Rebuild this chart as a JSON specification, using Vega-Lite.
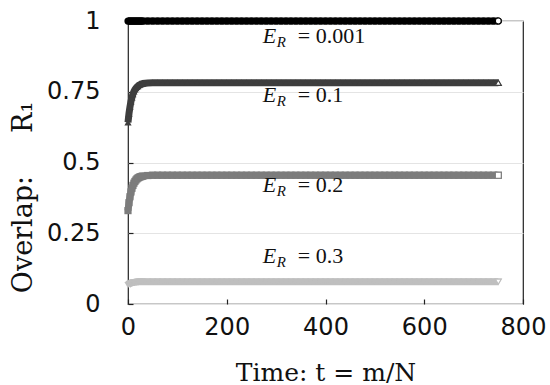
{
"$schema": "https://vega.github.io/schema/vega-lite/v6.json",
"width": 395,
"height": 283,
"autosize": {"type": "none"},
"padding": {"left": 128, "top": 21, "right": 27, "bottom": 81},
"background": "white",
"config": {
  "view": {"stroke": "#222222", "strokeWidth": 1.2},
  "axis": {"domain": false, "tickColor": "#222222", "tickSize": -5, "tickWidth": 1.2,
    "labelFont": "DejaVu Sans", "labelFontSize": 24, "labelColor": "#111111",
    "titleFont": "DejaVu Serif", "titleFontWeight": "normal", "titleColor": "#111111"}
},
"datasets": {
"curves": [
{"t":0,"s":"0.001","r":1},{"t":2,"s":"0.001","r":1},{"t":4,"s":"0.001","r":1},{"t":6,"s":"0.001","r":1},{"t":8,"s":"0.001","r":1},{"t":10,"s":"0.001","r":1},{"t":12,"s":"0.001","r":1},{"t":14,"s":"0.001","r":1},{"t":16,"s":"0.001","r":1},{"t":18,"s":"0.001","r":1},{"t":20,"s":"0.001","r":1},{"t":22,"s":"0.001","r":1},{"t":24,"s":"0.001","r":1},{"t":26,"s":"0.001","r":1},{"t":28,"s":"0.001","r":1},{"t":30,"s":"0.001","r":1},
{"t":40,"s":"0.001","r":1},{"t":50,"s":"0.001","r":1},{"t":60,"s":"0.001","r":1},{"t":70,"s":"0.001","r":1},{"t":80,"s":"0.001","r":1},{"t":90,"s":"0.001","r":1},{"t":100,"s":"0.001","r":1},{"t":110,"s":"0.001","r":1},{"t":120,"s":"0.001","r":1},{"t":130,"s":"0.001","r":1},{"t":140,"s":"0.001","r":1},{"t":150,"s":"0.001","r":1},{"t":160,"s":"0.001","r":1},{"t":170,"s":"0.001","r":1},{"t":180,"s":"0.001","r":1},{"t":190,"s":"0.001","r":1},{"t":200,"s":"0.001","r":1},{"t":210,"s":"0.001","r":1},{"t":220,"s":"0.001","r":1},{"t":230,"s":"0.001","r":1},{"t":240,"s":"0.001","r":1},{"t":250,"s":"0.001","r":1},{"t":260,"s":"0.001","r":1},{"t":270,"s":"0.001","r":1},{"t":280,"s":"0.001","r":1},{"t":290,"s":"0.001","r":1},{"t":300,"s":"0.001","r":1},{"t":310,"s":"0.001","r":1},{"t":320,"s":"0.001","r":1},{"t":330,"s":"0.001","r":1},{"t":340,"s":"0.001","r":1},{"t":350,"s":"0.001","r":1},{"t":360,"s":"0.001","r":1},{"t":370,"s":"0.001","r":1},{"t":380,"s":"0.001","r":1},{"t":390,"s":"0.001","r":1},{"t":400,"s":"0.001","r":1},{"t":410,"s":"0.001","r":1},{"t":420,"s":"0.001","r":1},{"t":430,"s":"0.001","r":1},{"t":440,"s":"0.001","r":1},{"t":450,"s":"0.001","r":1},{"t":460,"s":"0.001","r":1},{"t":470,"s":"0.001","r":1},{"t":480,"s":"0.001","r":1},{"t":490,"s":"0.001","r":1},{"t":500,"s":"0.001","r":1},{"t":510,"s":"0.001","r":1},{"t":520,"s":"0.001","r":1},{"t":530,"s":"0.001","r":1},{"t":540,"s":"0.001","r":1},{"t":550,"s":"0.001","r":1},{"t":560,"s":"0.001","r":1},{"t":570,"s":"0.001","r":1},{"t":580,"s":"0.001","r":1},{"t":590,"s":"0.001","r":1},{"t":600,"s":"0.001","r":1},{"t":610,"s":"0.001","r":1},{"t":620,"s":"0.001","r":1},{"t":630,"s":"0.001","r":1},{"t":640,"s":"0.001","r":1},{"t":650,"s":"0.001","r":1},{"t":660,"s":"0.001","r":1},{"t":670,"s":"0.001","r":1},{"t":680,"s":"0.001","r":1},{"t":690,"s":"0.001","r":1},{"t":700,"s":"0.001","r":1},{"t":710,"s":"0.001","r":1},{"t":720,"s":"0.001","r":1},{"t":730,"s":"0.001","r":1},{"t":740,"s":"0.001","r":1},{"t":750,"s":"0.001","r":1},
{"t":0,"s":"0.1","r":0.642},{"t":2,"s":"0.1","r":0.673},{"t":4,"s":"0.1","r":0.697},{"t":6,"s":"0.1","r":0.716},{"t":8,"s":"0.1","r":0.73},{"t":10,"s":"0.1","r":0.742},{"t":12,"s":"0.1","r":0.751},{"t":14,"s":"0.1","r":0.758},{"t":16,"s":"0.1","r":0.763},{"t":18,"s":"0.1","r":0.767},{"t":20,"s":"0.1","r":0.77},{"t":22,"s":"0.1","r":0.773},{"t":24,"s":"0.1","r":0.775},{"t":26,"s":"0.1","r":0.777},{"t":28,"s":"0.1","r":0.778},{"t":30,"s":"0.1","r":0.779},
{"t":40,"s":"0.1","r":0.781},{"t":50,"s":"0.1","r":0.782},{"t":60,"s":"0.1","r":0.782},{"t":70,"s":"0.1","r":0.782},{"t":80,"s":"0.1","r":0.782},{"t":90,"s":"0.1","r":0.782},{"t":100,"s":"0.1","r":0.782},{"t":110,"s":"0.1","r":0.782},{"t":120,"s":"0.1","r":0.782},{"t":130,"s":"0.1","r":0.782},{"t":140,"s":"0.1","r":0.782},{"t":150,"s":"0.1","r":0.782},{"t":160,"s":"0.1","r":0.782},{"t":170,"s":"0.1","r":0.782},{"t":180,"s":"0.1","r":0.782},{"t":190,"s":"0.1","r":0.782},{"t":200,"s":"0.1","r":0.782},{"t":210,"s":"0.1","r":0.782},{"t":220,"s":"0.1","r":0.782},{"t":230,"s":"0.1","r":0.782},{"t":240,"s":"0.1","r":0.782},{"t":250,"s":"0.1","r":0.782},{"t":260,"s":"0.1","r":0.782},{"t":270,"s":"0.1","r":0.782},{"t":280,"s":"0.1","r":0.782},{"t":290,"s":"0.1","r":0.782},{"t":300,"s":"0.1","r":0.782},{"t":310,"s":"0.1","r":0.782},{"t":320,"s":"0.1","r":0.782},{"t":330,"s":"0.1","r":0.782},{"t":340,"s":"0.1","r":0.782},{"t":350,"s":"0.1","r":0.782},{"t":360,"s":"0.1","r":0.782},{"t":370,"s":"0.1","r":0.782},{"t":380,"s":"0.1","r":0.782},{"t":390,"s":"0.1","r":0.782},{"t":400,"s":"0.1","r":0.782},{"t":410,"s":"0.1","r":0.782},{"t":420,"s":"0.1","r":0.782},{"t":430,"s":"0.1","r":0.782},{"t":440,"s":"0.1","r":0.782},{"t":450,"s":"0.1","r":0.782},{"t":460,"s":"0.1","r":0.782},{"t":470,"s":"0.1","r":0.782},{"t":480,"s":"0.1","r":0.782},{"t":490,"s":"0.1","r":0.782},{"t":500,"s":"0.1","r":0.782},{"t":510,"s":"0.1","r":0.782},{"t":520,"s":"0.1","r":0.782},{"t":530,"s":"0.1","r":0.782},{"t":540,"s":"0.1","r":0.782},{"t":550,"s":"0.1","r":0.782},{"t":560,"s":"0.1","r":0.782},{"t":570,"s":"0.1","r":0.782},{"t":580,"s":"0.1","r":0.782},{"t":590,"s":"0.1","r":0.782},{"t":600,"s":"0.1","r":0.782},{"t":610,"s":"0.1","r":0.782},{"t":620,"s":"0.1","r":0.782},{"t":630,"s":"0.1","r":0.782},{"t":640,"s":"0.1","r":0.782},{"t":650,"s":"0.1","r":0.782},{"t":660,"s":"0.1","r":0.782},{"t":670,"s":"0.1","r":0.782},{"t":680,"s":"0.1","r":0.782},{"t":690,"s":"0.1","r":0.782},{"t":700,"s":"0.1","r":0.782},{"t":710,"s":"0.1","r":0.782},{"t":720,"s":"0.1","r":0.782},{"t":730,"s":"0.1","r":0.782},{"t":740,"s":"0.1","r":0.782},{"t":750,"s":"0.1","r":0.782},
{"t":0,"s":"0.2","r":0.33},{"t":2,"s":"0.2","r":0.358},{"t":4,"s":"0.2","r":0.379},{"t":6,"s":"0.2","r":0.396},{"t":8,"s":"0.2","r":0.409},{"t":10,"s":"0.2","r":0.419},{"t":12,"s":"0.2","r":0.427},{"t":14,"s":"0.2","r":0.433},{"t":16,"s":"0.2","r":0.438},{"t":18,"s":"0.2","r":0.442},{"t":20,"s":"0.2","r":0.445},{"t":22,"s":"0.2","r":0.447},{"t":24,"s":"0.2","r":0.449},{"t":26,"s":"0.2","r":0.45},{"t":28,"s":"0.2","r":0.451},{"t":30,"s":"0.2","r":0.452},
{"t":40,"s":"0.2","r":0.454},{"t":50,"s":"0.2","r":0.455},{"t":60,"s":"0.2","r":0.455},{"t":70,"s":"0.2","r":0.455},{"t":80,"s":"0.2","r":0.455},{"t":90,"s":"0.2","r":0.455},{"t":100,"s":"0.2","r":0.455},{"t":110,"s":"0.2","r":0.455},{"t":120,"s":"0.2","r":0.455},{"t":130,"s":"0.2","r":0.455},{"t":140,"s":"0.2","r":0.455},{"t":150,"s":"0.2","r":0.455},{"t":160,"s":"0.2","r":0.455},{"t":170,"s":"0.2","r":0.455},{"t":180,"s":"0.2","r":0.455},{"t":190,"s":"0.2","r":0.455},{"t":200,"s":"0.2","r":0.455},{"t":210,"s":"0.2","r":0.455},{"t":220,"s":"0.2","r":0.455},{"t":230,"s":"0.2","r":0.455},{"t":240,"s":"0.2","r":0.455},{"t":250,"s":"0.2","r":0.455},{"t":260,"s":"0.2","r":0.455},{"t":270,"s":"0.2","r":0.455},{"t":280,"s":"0.2","r":0.455},{"t":290,"s":"0.2","r":0.455},{"t":300,"s":"0.2","r":0.455},{"t":310,"s":"0.2","r":0.455},{"t":320,"s":"0.2","r":0.455},{"t":330,"s":"0.2","r":0.455},{"t":340,"s":"0.2","r":0.455},{"t":350,"s":"0.2","r":0.455},{"t":360,"s":"0.2","r":0.455},{"t":370,"s":"0.2","r":0.455},{"t":380,"s":"0.2","r":0.455},{"t":390,"s":"0.2","r":0.455},{"t":400,"s":"0.2","r":0.455},{"t":410,"s":"0.2","r":0.455},{"t":420,"s":"0.2","r":0.455},{"t":430,"s":"0.2","r":0.455},{"t":440,"s":"0.2","r":0.455},{"t":450,"s":"0.2","r":0.455},{"t":460,"s":"0.2","r":0.455},{"t":470,"s":"0.2","r":0.455},{"t":480,"s":"0.2","r":0.455},{"t":490,"s":"0.2","r":0.455},{"t":500,"s":"0.2","r":0.455},{"t":510,"s":"0.2","r":0.455},{"t":520,"s":"0.2","r":0.455},{"t":530,"s":"0.2","r":0.455},{"t":540,"s":"0.2","r":0.455},{"t":550,"s":"0.2","r":0.455},{"t":560,"s":"0.2","r":0.455},{"t":570,"s":"0.2","r":0.455},{"t":580,"s":"0.2","r":0.455},{"t":590,"s":"0.2","r":0.455},{"t":600,"s":"0.2","r":0.455},{"t":610,"s":"0.2","r":0.455},{"t":620,"s":"0.2","r":0.455},{"t":630,"s":"0.2","r":0.455},{"t":640,"s":"0.2","r":0.455},{"t":650,"s":"0.2","r":0.455},{"t":660,"s":"0.2","r":0.455},{"t":670,"s":"0.2","r":0.455},{"t":680,"s":"0.2","r":0.455},{"t":690,"s":"0.2","r":0.455},{"t":700,"s":"0.2","r":0.455},{"t":710,"s":"0.2","r":0.455},{"t":720,"s":"0.2","r":0.455},{"t":730,"s":"0.2","r":0.455},{"t":740,"s":"0.2","r":0.455},{"t":750,"s":"0.2","r":0.455},
{"t":0,"s":"0.3","r":0.067},{"t":2,"s":"0.3","r":0.07},{"t":4,"s":"0.3","r":0.072},{"t":6,"s":"0.3","r":0.073},{"t":8,"s":"0.3","r":0.075},{"t":10,"s":"0.3","r":0.076},{"t":12,"s":"0.3","r":0.076},{"t":14,"s":"0.3","r":0.077},{"t":16,"s":"0.3","r":0.077},{"t":18,"s":"0.3","r":0.078},{"t":20,"s":"0.3","r":0.078},{"t":22,"s":"0.3","r":0.079},{"t":24,"s":"0.3","r":0.079},{"t":26,"s":"0.3","r":0.079},{"t":28,"s":"0.3","r":0.079},{"t":30,"s":"0.3","r":0.079},
{"t":40,"s":"0.3","r":0.079},{"t":50,"s":"0.3","r":0.079},{"t":60,"s":"0.3","r":0.079},{"t":70,"s":"0.3","r":0.079},{"t":80,"s":"0.3","r":0.079},{"t":90,"s":"0.3","r":0.079},{"t":100,"s":"0.3","r":0.079},{"t":110,"s":"0.3","r":0.079},{"t":120,"s":"0.3","r":0.079},{"t":130,"s":"0.3","r":0.079},{"t":140,"s":"0.3","r":0.079},{"t":150,"s":"0.3","r":0.079},{"t":160,"s":"0.3","r":0.079},{"t":170,"s":"0.3","r":0.079},{"t":180,"s":"0.3","r":0.079},{"t":190,"s":"0.3","r":0.079},{"t":200,"s":"0.3","r":0.079},{"t":210,"s":"0.3","r":0.079},{"t":220,"s":"0.3","r":0.079},{"t":230,"s":"0.3","r":0.079},{"t":240,"s":"0.3","r":0.079},{"t":250,"s":"0.3","r":0.079},{"t":260,"s":"0.3","r":0.079},{"t":270,"s":"0.3","r":0.079},{"t":280,"s":"0.3","r":0.079},{"t":290,"s":"0.3","r":0.079},{"t":300,"s":"0.3","r":0.079},{"t":310,"s":"0.3","r":0.079},{"t":320,"s":"0.3","r":0.079},{"t":330,"s":"0.3","r":0.079},{"t":340,"s":"0.3","r":0.079},{"t":350,"s":"0.3","r":0.079},{"t":360,"s":"0.3","r":0.079},{"t":370,"s":"0.3","r":0.079},{"t":380,"s":"0.3","r":0.079},{"t":390,"s":"0.3","r":0.079},{"t":400,"s":"0.3","r":0.079},{"t":410,"s":"0.3","r":0.079},{"t":420,"s":"0.3","r":0.079},{"t":430,"s":"0.3","r":0.079},{"t":440,"s":"0.3","r":0.079},{"t":450,"s":"0.3","r":0.079},{"t":460,"s":"0.3","r":0.079},{"t":470,"s":"0.3","r":0.079},{"t":480,"s":"0.3","r":0.079},{"t":490,"s":"0.3","r":0.079},{"t":500,"s":"0.3","r":0.079},{"t":510,"s":"0.3","r":0.079},{"t":520,"s":"0.3","r":0.079},{"t":530,"s":"0.3","r":0.079},{"t":540,"s":"0.3","r":0.079},{"t":550,"s":"0.3","r":0.079},{"t":560,"s":"0.3","r":0.079},{"t":570,"s":"0.3","r":0.079},{"t":580,"s":"0.3","r":0.079},{"t":590,"s":"0.3","r":0.079},{"t":600,"s":"0.3","r":0.079},{"t":610,"s":"0.3","r":0.079},{"t":620,"s":"0.3","r":0.079},{"t":630,"s":"0.3","r":0.079},{"t":640,"s":"0.3","r":0.079},{"t":650,"s":"0.3","r":0.079},{"t":660,"s":"0.3","r":0.079},{"t":670,"s":"0.3","r":0.079},{"t":680,"s":"0.3","r":0.079},{"t":690,"s":"0.3","r":0.079},{"t":700,"s":"0.3","r":0.079},{"t":710,"s":"0.3","r":0.079},{"t":720,"s":"0.3","r":0.079},{"t":730,"s":"0.3","r":0.079},{"t":740,"s":"0.3","r":0.079},{"t":750,"s":"0.3","r":0.079}
],
"labels": [
{"t":273,"r":0.922,"v":"= 0.001"},
{"t":273,"r":0.714,"v":"= 0.1"},
{"t":273,"r":0.396,"v":"= 0.2"},
{"t":273,"r":0.145,"v":"= 0.3"}
]
},
"encoding": {
  "x": {"field": "t", "type": "quantitative", "scale": {"domain": [0, 800], "nice": false, "zero": false},
    "axis": {"values": [0, 200, 400, 600, 800], "format": "d", "grid": false, "labelPadding": 16, "labelFlush": false,
      "title": "Time: t = m/N", "titleFontSize": 25, "titleBaseline": "alphabetic", "titleY": 76}},
  "y": {"field": "r", "type": "quantitative", "scale": {"domain": [0, 1], "nice": false},
    "axis": {"values": [0, 0.25, 0.5, 0.75, 1], "labelExpr": "format(datum.value, '.2~f')", "grid": true, "gridColor": "#e4e4e4", "gridWidth": 1,
      "labelPadding": 33, "title": "Overlap:\u00a0\u00a0\u00a0\u00a0\u00a0R₁", "titleFontSize": 27, "titleAngle": -90,
      "titleX": -97, "titleY": 176, "titleAlign": "center", "titleBaseline": "alphabetic"}}
},
"layer": [
  {"data": {"name": "curves"},
   "mark": {"type": "line", "strokeWidth": 7, "strokeCap": "butt"},
   "encoding": {"color": {"field": "s", "type": "nominal", "legend": null,
      "scale": {"domain": ["0.001", "0.1", "0.2", "0.3"], "range": ["#000000", "#3e3e3e", "#7c7c7c", "#bfbfbf"]}},
     "detail": {"field": "s"}}},
  {"data": {"name": "curves"},
   "mark": {"type": "point", "filled": true, "opacity": 1, "size": 52},
   "encoding": {"color": {"field": "s", "type": "nominal", "legend": null},
     "shape": {"field": "s", "type": "nominal", "legend": null,
      "scale": {"domain": ["0.001", "0.1", "0.2", "0.3"], "range": ["circle", "triangle-up", "square", "triangle-down"]}}}},
  {"data": {"name": "curves"},
   "transform": [{"filter": "datum.t == 750"}],
   "mark": {"type": "point", "filled": false, "fill": "white", "fillOpacity": 1, "opacity": 1, "strokeWidth": 1.2, "size": 36},
   "encoding": {"color": {"field": "s", "type": "nominal", "legend": null},
     "shape": {"field": "s", "type": "nominal", "legend": null}}},
  {"data": {"name": "labels"},
   "mark": {"type": "text", "text": "E", "align": "left", "baseline": "alphabetic", "font": "Liberation Serif", "fontStyle": "italic", "fontSize": 22, "color": "#111111"},
   "encoding": {}},
  {"data": {"name": "labels"},
   "mark": {"type": "text", "text": "R", "align": "left", "baseline": "alphabetic", "dx": 14, "dy": 4, "font": "Liberation Serif", "fontStyle": "italic", "fontSize": 15, "color": "#111111"},
   "encoding": {}},
  {"data": {"name": "labels"},
   "mark": {"type": "text", "align": "left", "baseline": "alphabetic", "dx": 35, "font": "Liberation Serif", "fontSize": 22, "color": "#111111"},
   "encoding": {"text": {"field": "v"}}}
]
}
